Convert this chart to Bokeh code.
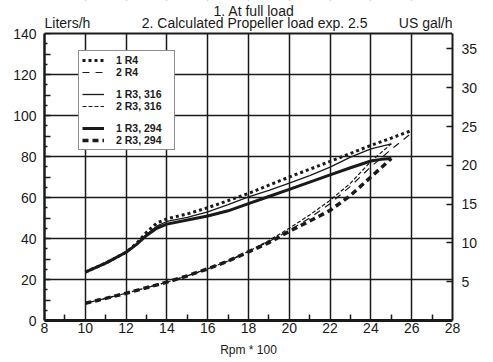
from bokeh.plotting import figure
from bokeh.models import (FixedTicker, LinearAxis, Range1d, Legend, LegendItem, Label,
                          BoxAnnotation, Span)
from bokeh.embed import file_html
from bokeh.resources import INLINE

# ---------------- data ----------------
rpm_1r4 = [10, 11, 12, 12.5, 13, 13.5, 14, 15, 16, 17, 18, 19, 20, 21, 22, 23, 24, 25, 26]
lph_1r4 = [23.6, 28, 33.3, 37.5, 43, 47.5, 49.6, 52, 55, 58.5, 62, 66, 70, 73.8, 77.6, 81.5, 85.4, 89, 92.7]

rpm_1r3_316 = [10, 11, 12, 12.5, 13, 13.5, 14, 15, 16, 17, 18, 19, 20, 21, 22, 23, 24, 25]
lph_1r3_316 = [23.6, 28, 33.3, 37, 42, 46, 48.3, 50.3, 53, 56.5, 60.3, 63.5, 67, 70.7, 74.8, 79.7, 83.7, 86.2]

rpm_1r3_294 = [10, 11, 12, 12.5, 13, 13.5, 14, 15, 16, 17, 18, 19, 20, 21, 22, 23, 24, 24.5, 25]
lph_1r3_294 = [23.6, 28, 33.3, 37, 41.5, 45, 47, 49, 51, 53.5, 57, 60.5, 64, 67.5, 71, 74.5, 77.8, 78.6, 79]

rpm_2r4 = [10, 11, 12, 13, 14, 15, 16, 17, 18, 19, 20, 21, 22, 23, 24, 25, 26]
lph_2r4 = [8.4, 10.8, 13.3, 16, 18.7, 21.8, 25.2, 29, 33.7, 38.5, 44, 50, 57, 65.5, 75, 83.5, 91.5]

rpm_2r3_316 = [10, 11, 12, 13, 14, 15, 16, 17, 18, 19, 20, 21, 22, 23, 24, 25]
lph_2r3_316 = [8.4, 10.8, 13.3, 16, 18.7, 21.8, 25.2, 29, 33.7, 39, 45, 51.5, 58.6, 67, 77.6, 86.2]

rpm_2r3_294 = [10, 11, 12, 13, 14, 15, 16, 17, 18, 19, 20, 21, 22, 23, 24, 25]
lph_2r3_294 = [8.4, 10.8, 13.3, 16, 18.7, 21.8, 25.2, 29, 33.5, 38, 43.5, 48.5, 53.7, 61, 70, 79]

x_ticks = [8, 10, 12, 14, 16, 18, 20, 22, 24, 26, 28]
x_minor = [9, 11, 13, 15, 17, 19, 21, 23, 25, 27]
x_grid = [10, 12, 14, 16, 18, 20, 22, 24, 26]
y_ticks = [0, 10, 20, 30, 40, 50, 60, 70, 80, 90, 100, 110, 120, 130, 140]
y_labels = {0: "0", 10: "", 20: "20", 30: "", 40: "40", 50: "", 60: "60", 70: "",
            80: "80", 90: "", 100: "100", 110: "", 120: "120", 130: "", 140: "140"}
y_minor = [5, 15, 25, 35, 45, 55, 65, 75, 85, 95, 105, 115, 125, 135]
y_grid = [20, 40, 60, 80, 100, 120]
gal_ticks = [5, 10, 15, 20, 25, 30, 35]
LITERS_PER_GAL = 3.785

title_1 = "1. At full load"
title_2 = "2. Calculated Propeller load exp. 2.5"
left_unit = "Liters/h"
right_unit = "US gal/h"
x_label = "Rpm * 100"

FONT = "Liberation Sans"
INK = "#1a1a1a"

# ---------------- layout constants ----------------
W, H = 493, 362
HEAD = 33          # header strip (titles) above the plotting box, px
BOX_H = 287        # height of the 0..140 box, px
Y_MAX = 140
PX_PER_UNIT = BOX_H / Y_MAX
Y_TOP = Y_MAX + HEAD / PX_PER_UNIT


def ydata(px_from_top):
    """page pixel row -> data y (for header text placement)"""
    return (HEAD + BOX_H - px_from_top) / PX_PER_UNIT


p = figure(width=W, height=H, x_range=(8, 28), y_range=(0, Y_TOP),
           output_backend="svg", toolbar_location=None, title=None,
           min_border_left=44, min_border_right=41, min_border_top=0, min_border_bottom=H - HEAD - BOX_H)
p.background_fill_color = "white"
p.border_fill_color = "white"
p.outline_line_color = None

# grids
p.xgrid.ticker = FixedTicker(ticks=x_grid)
p.ygrid.ticker = FixedTicker(ticks=y_grid)
for g in (p.xgrid, p.ygrid):
    g.grid_line_color = INK
    g.grid_line_width = 1.5
    g.grid_line_alpha = 1.0

# bottom axis
xa = p.xaxis[0]
xa.ticker = FixedTicker(ticks=x_ticks, minor_ticks=x_minor)
xa.major_tick_in = 0
xa.major_tick_out = 0
xa.minor_tick_in = 6
xa.minor_tick_out = 0
xa.minor_tick_line_color = INK
xa.minor_tick_line_width = 1.5
xa.axis_line_width = 3
xa.axis_line_color = INK
xa.major_label_standoff = 2
xa.major_label_text_font = FONT
xa.major_label_text_font_size = "14px"
xa.major_label_text_color = INK
xa.axis_label = x_label
xa.axis_label_standoff = 7
xa.axis_label_text_font = FONT
xa.axis_label_text_font_size = "12px"
xa.axis_label_text_font_style = "normal"
xa.axis_label_text_color = INK

# left axis
ya = p.yaxis[0]
ya.ticker = FixedTicker(ticks=y_ticks, minor_ticks=y_minor)
ya.bounds = (0, Y_MAX)
ya.major_label_overrides = y_labels
ya.major_tick_in = 6
ya.major_tick_out = 0
ya.major_tick_line_width = 1.5
ya.major_tick_line_color = INK
ya.minor_tick_in = 3
ya.minor_tick_out = 0
ya.minor_tick_line_color = INK
ya.minor_tick_line_width = 1.5
ya.axis_line_width = 2.5
ya.axis_line_color = INK
ya.major_label_standoff = 8
ya.major_label_text_font = FONT
ya.major_label_text_font_size = "14px"
ya.major_label_text_color = INK

# right axis (US gal/h)
p.extra_y_ranges = {"gal": Range1d(0, Y_TOP / LITERS_PER_GAL)}
ra = LinearAxis(y_range_name="gal", ticker=FixedTicker(ticks=gal_ticks),
                bounds=(0, Y_MAX / LITERS_PER_GAL))
ra.major_tick_in = 6
ra.major_tick_out = 0
ra.major_tick_line_width = 1.5
ra.major_tick_line_color = INK
ra.minor_tick_in = 0
ra.minor_tick_out = 0
ra.axis_line_width = 2
ra.axis_line_color = INK
ra.major_label_standoff = 9
ra.major_label_text_font = FONT
ra.major_label_text_font_size = "14px"
ra.major_label_text_color = INK
p.add_layout(ra, "right")

# curves
r_2r4 = p.line(rpm_2r4, lph_2r4, line_color=INK, line_width=1.2, line_dash="7 6")
r_2r3_316 = p.line(rpm_2r3_316, lph_2r3_316, line_color=INK, line_width=1.2, line_dash="4 2")
r_2r3_294 = p.line(rpm_2r3_294, lph_2r3_294, line_color=INK, line_width=3.5, line_dash="6 4")
r_1r4 = p.line(rpm_1r4, lph_1r4, line_color=INK, line_width=3, line_dash="3 3")
r_1r3_316 = p.line(rpm_1r3_316, lph_1r3_316, line_color=INK, line_width=1.3)
r_1r3_294 = p.line(rpm_1r3_294, lph_1r3_294, line_color=INK, line_width=3)
blank = p.line(x=[], y=[], line_alpha=0)

# header strip: blank out grid above the box, then draw the top border and texts
p.add_layout(BoxAnnotation(bottom=Y_MAX, fill_color="white", fill_alpha=1.0,
                           line_color=None, level="annotation"))
p.add_layout(Span(location=Y_MAX, dimension="width", line_color=INK, line_width=2))


def head_label(x, y, text, align):
    p.add_layout(Label(x=x, y=y, text=text, text_align=align, text_baseline="alphabetic",
                       text_font=FONT, text_font_size="14px", text_color=INK))


head_label(18.27, ydata(10), title_1, "center")
head_label(18.3, ydata(22), title_2, "center")
head_label(8.0, ydata(22), left_unit, "left")
head_label(28.0, ydata(22), right_unit, "right")

legend = Legend(items=[
    LegendItem(label="1 R4", renderers=[r_1r4]),
    LegendItem(label="2 R4", renderers=[r_2r4]),
    LegendItem(label=" ", renderers=[blank]),
    LegendItem(label="1 R3, 316", renderers=[r_1r3_316]),
    LegendItem(label="2 R3, 316", renderers=[r_2r3_316]),
    LegendItem(label=" ", renderers=[blank]),
    LegendItem(label="1 R3, 294", renderers=[r_1r3_294]),
    LegendItem(label="2 R3, 294", renderers=[r_2r3_294]),
], location=(34, 170))
legend.margin = 0
legend.padding = 3
legend.spacing = 0
legend.glyph_width = 22
legend.glyph_height = 10
legend.label_height = 10
legend.label_width = 55
legend.label_standoff = 12
legend.label_text_font = FONT
legend.label_text_font_size = "10.5px"
legend.label_text_font_style = "bold"
legend.label_text_color = INK
legend.label_text_baseline = "middle"
legend.border_line_color = INK
legend.border_line_width = 1
legend.background_fill_color = "white"
legend.background_fill_alpha = 1
p.add_layout(legend, "center")

open("out.html", "w").write(file_html(p, INLINE))
